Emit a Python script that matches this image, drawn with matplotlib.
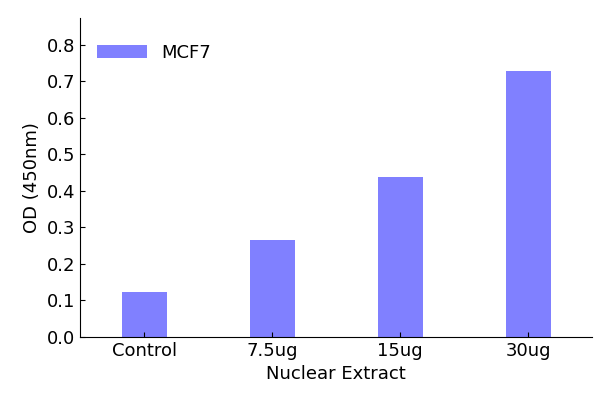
import matplotlib
matplotlib.use("Agg")
import matplotlib.pyplot as plt

categories = ["Control", "7.5ug", "15ug", "30ug"]
values = [0.123, 0.266, 0.438, 0.729]
series_name = "MCF7"
yticks = [0.0, 0.1, 0.2, 0.3, 0.4, 0.5, 0.6, 0.7, 0.8]

fig = plt.figure(figsize=(6.08, 4.05), dpi=100)
ax = fig.add_axes([0.132, 0.168, 0.842, 0.788])
ax.bar(range(len(categories)), values, width=0.35, color="#8080ff", label=series_name)
ax.set_xlim(-0.5, 3.5)
ax.set_ylim(0, 0.874)
ax.set_yticks(yticks)
ax.set_yticklabels([f"{v:.1f}" for v in yticks])
ax.set_xticks(range(len(categories)))
ax.set_xticklabels(categories)
ax.spines["top"].set_visible(False)
ax.spines["right"].set_visible(False)
ax.tick_params(direction="in", labelsize=13, top=False, right=False)
ax.set_xlabel("Nuclear Extract", fontsize=13)
ax.set_ylabel("OD (450nm)", fontsize=13)
ax.legend(loc="upper left", frameon=False, fontsize=13, handlelength=2.8,
          bbox_to_anchor=(0.0, 0.97))
fig.savefig("out.png", dpi=100)
